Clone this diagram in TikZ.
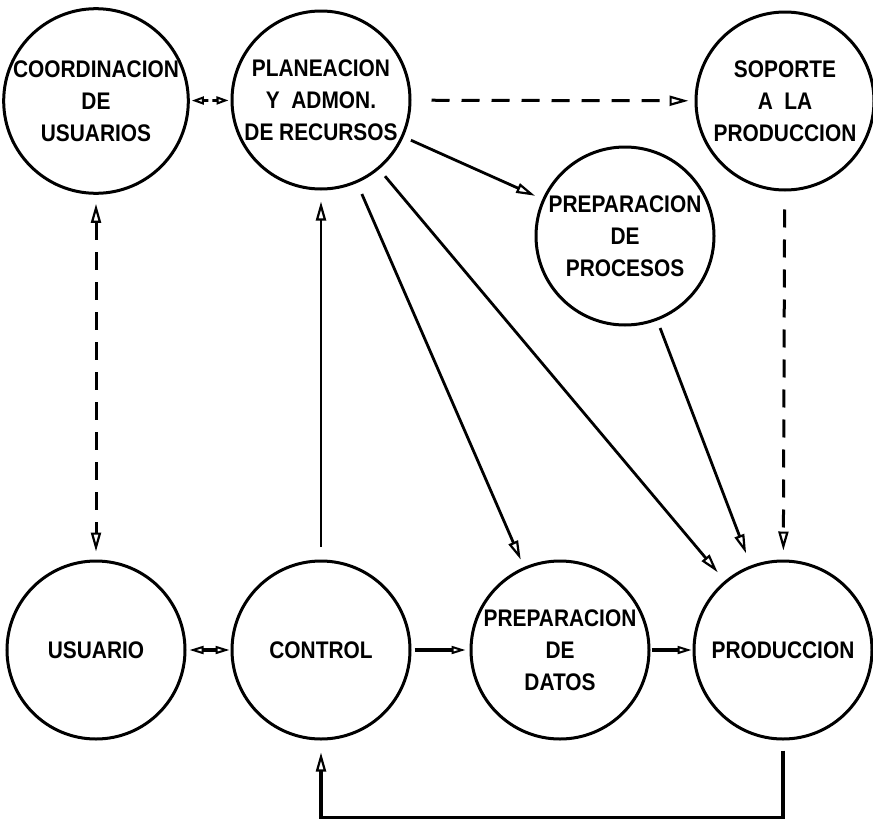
\documentclass[tikz,border=0pt]{standalone}
\usepackage{fontspec}
\newfontfamily\letfont[FakeStretch=0.87]{Liberation Sans}
\usetikzlibrary{arrows.meta}
\tikzset{
  proc/.style={circle, draw, line width=3pt, minimum size=178pt, inner sep=0pt,
    align=center, font=\letfont\bfseries\fontsize{24}{32}\selectfont},
  flow/.style={line width=2.8pt},
  dflow/.style={line width=3pt, dash pattern=on 18pt off 12pt},
  >={Triangle[open,length=19pt,width=10pt,line width=2.2pt]}
}
\begin{document}
\begin{tikzpicture}[x=1pt,y=-1pt]
\useasboundingbox (0,0) rectangle (873,822);
\fill[white] (0,0) rectangle (873,822);

\node[proc] (coord) at (96,101) {COORDINACION\\DE\\USUARIOS};
\node[proc] (plan) at (321,100) {PLANEACION\\Y\ \ ADMON.\\DE RECURSOS};
\node[proc] (sop) at (785,101) {SOPORTE\\A\ \ LA\\PRODUCCION};
\node[proc] (pproc) at (625,236) {PREPARACION\\DE\\PROCESOS};
\node[proc] (usu) at (96,650) {USUARIO};
\node[proc] (ctrl) at (321,650) {CONTROL};
\node[proc] (pdat) at (560,650) {PREPARACION\\DE\\DATOS};
\node[proc] (prod) at (783,650) {PRODUCCION};

% dashed connectors
\draw[<->, line width=2.8pt, dash pattern=on 5pt off 4pt, shorten <=2pt, shorten >=2pt,
  >={Triangle[open,length=12pt,width=8pt,line width=2pt]}] (coord) -- (plan);
\draw[->, dflow, shorten <=20pt, shorten >=6pt] (plan) -- (sop);
\draw[<->, dflow, shorten <=9pt, shorten >=8pt] (coord) -- (usu);
\draw[->, dflow, shorten <=18pt, shorten >=9pt] (sop) -- (prod);

% solid connectors
\draw[->, flow, shorten <=8pt, shorten >=8pt] (plan) -- (pproc);
\draw[->, flow, shorten <=12pt, shorten >=8pt] (plan) -- (pdat);
\draw[->, flow, shorten <=9pt, shorten >=11pt] (plan) -- (prod);
\draw[->, flow, shorten <=8pt, shorten >=13pt] (pproc) -- (prod);
\draw[->, flow, shorten <=13pt, shorten >=11pt] (ctrl) -- (plan);

\draw[<->, line width=3.2pt, shorten <=3pt, shorten >=1pt,
  >={Triangle[open,length=14pt,width=8pt,line width=2pt]}] (usu) -- (ctrl);
\draw[->, line width=3.2pt, shorten <=3pt, shorten >=4pt,
  >={Triangle[open,length=14pt,width=8pt,line width=2pt]}] (ctrl) -- (pdat);
\draw[->, line width=3.2pt, shorten <=1pt, shorten >=1pt,
  >={Triangle[open,length=14pt,width=8pt,line width=2pt]}] (pdat) -- (prod);

% feedback loop
\draw[->, line width=3.6pt, shorten <=10pt, shorten >=12pt] (prod.south) -- ++(0,77) -| (ctrl.south);
\end{tikzpicture}
\end{document}
